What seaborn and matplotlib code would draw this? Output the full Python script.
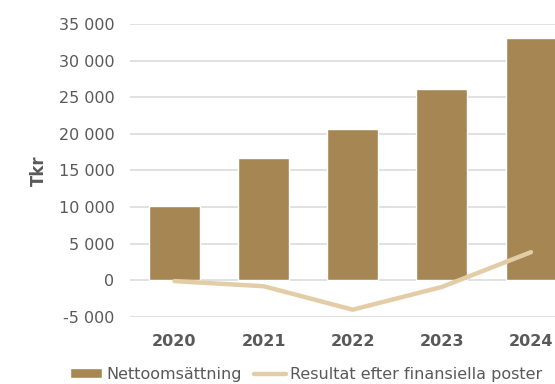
import matplotlib
matplotlib.use("Agg")
import matplotlib.pyplot as plt
import matplotlib.ticker as mticker
from matplotlib.patches import Patch
from matplotlib.lines import Line2D
import pandas as pd
import seaborn as sns

# data
years = ["2020", "2021", "2022", "2023", "2024"]
netto = [10150, 16700, 20650, 26100, 33100]
resultat = [-100, -800, -4000, -900, 3850]

bar_color = "#a68754"
line_color = "#e3cda6"
text_color = "#595959"

sns.set_theme(style="white")
plt.rcParams["font.family"] = ["DejaVu Sans"]

df = pd.DataFrame({"year": years, "netto": netto, "resultat": resultat})

fig = plt.figure(figsize=(5.55, 3.84), dpi=100)
ax = fig.add_axes([0.234, 0.1745, 0.803, 0.763])

# bars
sns.barplot(data=df, x="year", y="netto", color=bar_color, width=0.57,
            saturation=1, ax=ax, zorder=2)
# line
sns.lineplot(data=df, x="year", y="resultat", color=line_color, linewidth=3.2,
             ax=ax, zorder=3)

ax.set_xlim(-0.5, 4.5)
ax.set_ylim(-5000, 35000)
ax.yaxis.set_major_locator(mticker.MultipleLocator(5000))
ax.yaxis.set_major_formatter(
    mticker.FuncFormatter(lambda v, p: f"{int(v):,}".replace(",", " ")))
ax.grid(axis="y", color="#dcdcdc", linewidth=1.2, zorder=0)
ax.set_axisbelow(True)
for s in ax.spines.values():
    s.set_visible(False)

ax.tick_params(axis="y", length=0, pad=11, labelsize=11.5, labelcolor=text_color)
ax.tick_params(axis="x", length=0, pad=12, labelsize=11.5, labelcolor=text_color)
for t in ax.get_xticklabels():
    t.set_fontweight("bold")

ax.set_xlabel("")
ax.set_ylabel("Tkr", fontsize=12, fontweight="bold", color=text_color, labelpad=8)

handles = [Patch(facecolor=bar_color, label="Nettoomsättning"),
           Line2D([0], [0], color=line_color, linewidth=3.2,
                  label="Resultat efter finansiella poster")]
fig.legend(handles=handles, loc="center", bbox_to_anchor=(0.552, 0.025), ncol=2,
           frameon=False, fontsize=11.5, labelcolor=text_color,
           handlelength=2.0, handletextpad=0.25, columnspacing=0.8,
           handleheight=0.6)

fig.savefig("out.png", dpi=100)
